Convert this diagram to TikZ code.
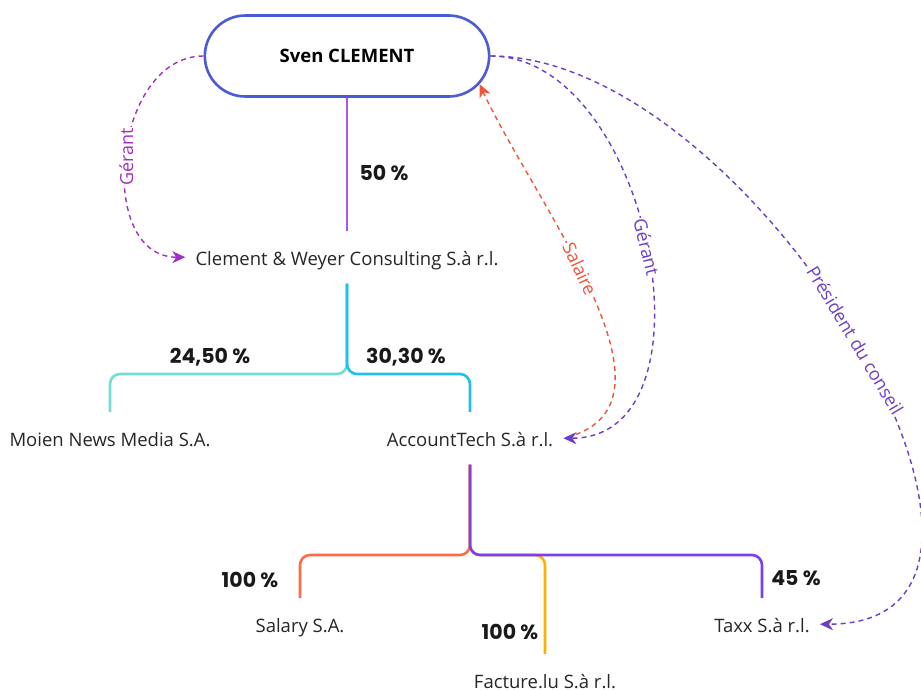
\documentclass[tikz,border=0pt]{standalone}
\usepackage{fontspec}
\setmainfont{Open Sans}
\newfontfamily\pctfont{Poppins}
\usetikzlibrary{arrows.meta,shapes.misc}

\definecolor{azulsven}{HTML}{4B5BD6}
\definecolor{violeta}{HTML}{A855F7}
\definecolor{celeste}{HTML}{1FBFEF}
\definecolor{turquesa}{HTML}{72DDD3}
\definecolor{morado}{HTML}{7B3FF0}
\definecolor{naranja}{HTML}{FF6B45}
\definecolor{amarillo}{HTML}{FFB000}
\definecolor{rolmagenta}{HTML}{A12FC4}
\definecolor{rolrojo}{HTML}{F0553A}
\definecolor{rolmorado}{HTML}{6B3EC9}

\begin{document}
\begin{tikzpicture}[x=1pt,y=-1pt,
    empresa/.style={anchor=base, font=\fontsize{18.5}{22}\selectfont, text=black!85,
      text height=20pt, text depth=4.4pt, inner xsep=10pt, inner ysep=14pt},
    pct/.style={font=\pctfont\bfseries\fontsize{20.5}{24}\selectfont, text=black!90},
    enlace/.style={line width=2.6pt, rounded corners=10pt},
    rol/.style={line width=1.4pt, dash pattern=on 5pt off 4pt,
      -{Stealth[length=13pt,width=12pt,inset=4pt]}},
    etiqueta/.style={fill=white, inner sep=1pt, font=\fontsize{18}{21}\selectfont}]

    % Marco del dibujo
    \useasboundingbox (0,0) rectangle (921,689);

    % Persona principal
    \node[draw=azulsven, line width=2.6pt, rounded rectangle, minimum width=291pt,
      minimum height=81pt, font=\bfseries\fontsize{18.5}{22}\selectfont] (sven) at (347,56) {Sven CLEMENT};

    % Sociedades
    \node[empresa] (cwc) at (347,265) {Clement \& Weyer Consulting S.à r.l.};
    \node[empresa] (moien) at (110,446) {Moien News Media S.A.};
    \node[empresa] (acc) at (470,446) {AccountTech S.à r.l.};
    \node[empresa] (salary) at (300,632) {Salary S.A.};
    \node[empresa] (facture) at (545,688) {Facture.lu S.à r.l.};
    \node[empresa] (taxx) at (762,632) {Taxx S.à r.l.};

    % Participaciones
    \draw[enlace, violeta] (sven.south) -- (cwc.north);
    \node[pct] (p50) at (384,173) {50 \%};

    \coordinate (r1) at (347,374);
    \draw[enlace, turquesa] (cwc.south) -- (r1) -| (moien.north);
    \draw[enlace, celeste] (cwc.south) -- (r1) -| (acc.north);
    \node[pct] (p2450) at (210,357) {24,50 \%};
    \node[pct] (p3030) at (406,357) {30,30 \%};

    \coordinate (r2) at (470,555);
    \draw[enlace, naranja] (acc.south) -- (r2) -| (salary.north);
    \draw[enlace, amarillo] (acc.south) -- (r2) -| (facture.north);
    \draw[enlace, morado] (acc.south) -- (r2) -| (taxx.north);
    \node[pct] (p100a) at (250,580) {100 \%};
    \node[pct] (p100b) at (510,632) {100 \%};
    \node[pct] (p45) at (796,578) {45 \%};

    % Funciones de Sven
    \draw[rol, rolmagenta] (sven.west) to[out=180, in=180, looseness=1.15]
      node[etiqueta, text=rolmagenta, pos=0.5, rotate=90] (g1) {Gérant} (cwc.west);
    \draw[rol, rolrojo, shorten <=4pt] (acc.east) to[out=15, in=-65, looseness=0.95]
      node[etiqueta, text=rolrojo, pos=0.56, rotate=-65] (sal) {Salaire} (sven.-12);
    \draw[rol, rolmorado] (sven.east) to[out=0, in=0, looseness=1.05]
      node[etiqueta, text=rolmorado, pos=0.5, rotate=-76] (g2) {Gérant} (acc.east);
    \draw[rol, rolmorado] (sven.east) to[out=0, in=0, looseness=1.04]
      node[etiqueta, text=rolmorado, pos=0.5, rotate=-59] (pres) {Président du conseil} (taxx.east);

\end{tikzpicture}
\end{document}
